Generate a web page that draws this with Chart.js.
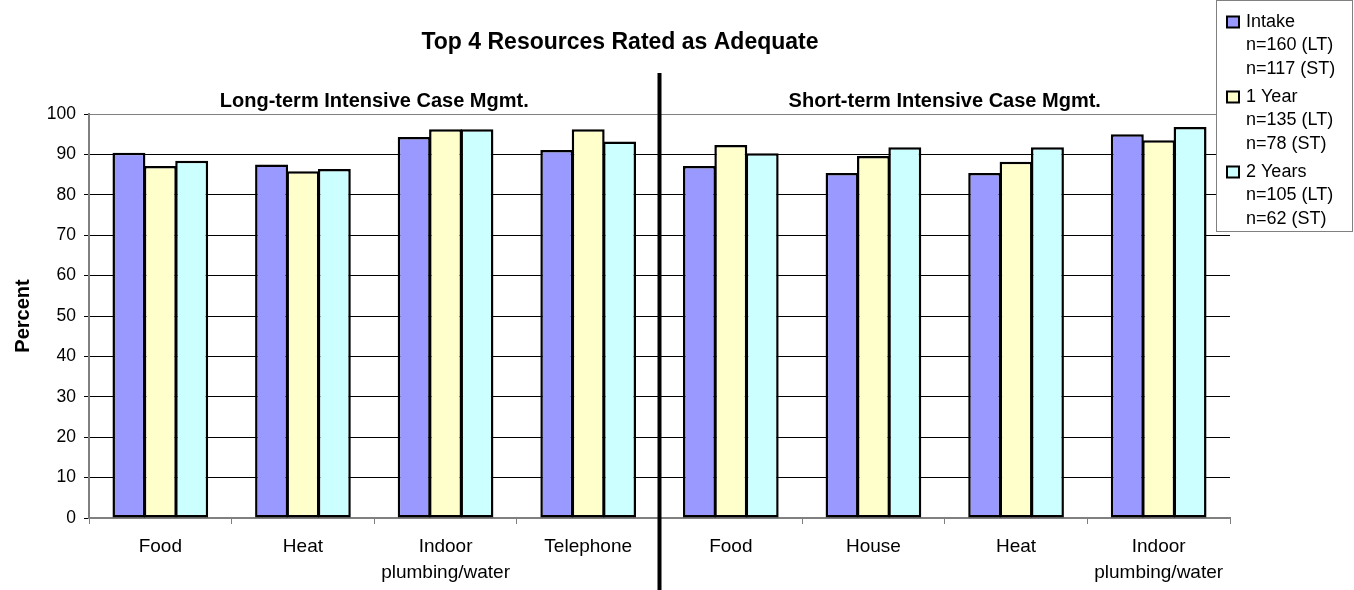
<!DOCTYPE html>
<html>
<head>
<meta charset="utf-8">
<script src="https://cdn.jsdelivr.net/npm/chart.js@4.4.0/dist/chart.umd.min.js"></script>
<style>
    html, body { margin: 0; padding: 0; background: #fff; }
    #wrap { position: relative; width: 1354px; height: 590px; }
</style>
</head>
<body>
<div id="wrap"><canvas id="resourcesChart" width="1354" height="590"></canvas></div>
<script>
// Data
const categories = [['Food'], ['Heat'], ['Indoor', 'plumbing/water'], ['Telephone'],
                    ['Food'], ['House'], ['Heat'], ['Indoor', 'plumbing/water']];
const intakeValues = [90.4, 87.5, 94.3, 91.1, 87.1, 85.4, 85.4, 95.0];
const year1Values  = [87.1, 85.8, 96.2, 96.2, 92.3, 89.6, 88.2, 93.5];
const year2Values  = [88.4, 86.4, 96.2, 93.2, 90.3, 91.8, 91.8, 96.8];
const seriesNames  = ['Intake', '1 Year', '2 Years'];
const seriesCounts = [['n=160 (LT)', 'n=117 (ST)'], ['n=135 (LT)', 'n=78 (ST)'], ['n=105 (LT)', 'n=62 (ST)']];
const groupTitles  = ['Long-term Intensive Case Mgmt.', 'Short-term Intensive Case Mgmt.'];
const chartTitle   = 'Top 4 Resources Rated as Adequate';
const yMin = 0, yMax = 100, yStep = 10;

const FONT = 'Arial, "Liberation Sans", sans-serif';

// Title, group headings, divider and legend drawn on top of the chart
const decorPlugin = {
    id: 'decor',
    afterDraw(chart) {
        const ctx = chart.ctx;
        const x = chart.scales.x;
        const area = chart.chartArea;
        ctx.save();

        // main title
        ctx.fillStyle = '#000';
        ctx.textAlign = 'center';
        ctx.textBaseline = 'middle';
        ctx.font = 'bold 23px ' + FONT;
        ctx.fillText(chartTitle, 620, 43);

        // divider between the two groups of categories
        const half = categories.length / 2;
        const divX = (x.getPixelForValue(half - 1) + x.getPixelForValue(half)) / 2;
        ctx.strokeStyle = '#000';
        ctx.lineWidth = 4;
        ctx.beginPath();
        ctx.moveTo(divX, 73);
        ctx.lineTo(divX, chart.height);
        ctx.stroke();

        // group headings
        ctx.font = 'bold 20px ' + FONT;
        ctx.fillText(groupTitles[0], (area.left + divX) / 2, 101);
        ctx.fillText(groupTitles[1], (divX + area.right) / 2, 101);

        // legend box
        ctx.fillStyle = '#fff';
        ctx.fillRect(1216, 0, 137, 232);
        ctx.strokeStyle = '#808080';
        ctx.lineWidth = 1;
        ctx.strokeRect(1216.5, 0.5, 136, 231);

        ctx.textAlign = 'left';
        ctx.font = '18px ' + FONT;
        const lineStep = 23.5;
        let y = 22;
        chart.data.datasets.forEach((ds, i) => {
            ctx.fillStyle = ds.backgroundColor;
            ctx.fillRect(1227, y - 5.5, 12, 11);
            ctx.strokeStyle = '#000';
            ctx.lineWidth = 2;
            ctx.strokeRect(1227, y - 5.5, 12, 11);
            ctx.fillStyle = '#000';
            ctx.fillText(seriesNames[i], 1246, y);
            seriesCounts[i].forEach((line, j) => {
                ctx.fillText(line, 1246, y + lineStep * (j + 1));
            });
            y += lineStep * 3 + 4.5;
        });

        ctx.restore();
    }
};

const ctx = document.getElementById('resourcesChart').getContext('2d');
new Chart(ctx, {
    type: 'bar',
    data: {
        labels: categories,
        datasets: [
            { label: seriesNames[0], data: intakeValues, backgroundColor: '#9999FF' },
            { label: seriesNames[1], data: year1Values,  backgroundColor: '#FFFFCC' },
            { label: seriesNames[2], data: year2Values,  backgroundColor: '#CCFFFF' }
        ].map(ds => Object.assign(ds, {
            borderColor: '#000',
            borderWidth: 2.5,
            borderSkipped: false,
            categoryPercentage: 0.66,
            barPercentage: 1.05
        }))
    },
    options: {
        responsive: false,
        animation: false,
        devicePixelRatio: 1,
        layout: { padding: { top: 114, right: 124, left: 0, bottom: 0 } },
        plugins: {
            legend: { display: false },
            title: { display: false },
            tooltip: { enabled: false }
        },
        scales: {
            x: {
                afterFit: scale => { scale.height = 72; },
                grid: {
                    drawOnChartArea: false,
                    drawTicks: true,
                    tickLength: 6,
                    color: '#808080',
                    offset: true
                },
                border: { color: '#808080', width: 2 },
                ticks: {
                    color: '#000',
                    maxRotation: 0,
                    autoSkip: false,
                    padding: 10,
                    font: { family: FONT, size: 19, lineHeight: '26px' }
                }
            },
            y: {
                min: yMin,
                max: yMax,
                afterFit: scale => { scale.width = 89; },
                grid: {
                    color: c => (c.tick && c.tick.value === yMax ? '#808080' : '#000'),
                    lineWidth: 1,
                    tickLength: 5,
                    tickColor: '#000'
                },
                border: { color: '#808080', width: 2 },
                ticks: {
                    stepSize: yStep,
                    color: '#000',
                    padding: 8,
                    font: { family: FONT, size: 17.5 }
                },
                title: {
                    display: true,
                    text: 'Percent',
                    color: '#000',
                    padding: { top: 11, bottom: 0 },
                    font: { family: FONT, size: 20, weight: 'bold' }
                }
            }
        }
    },
    plugins: [decorPlugin]
});
</script>
</body>
</html>
